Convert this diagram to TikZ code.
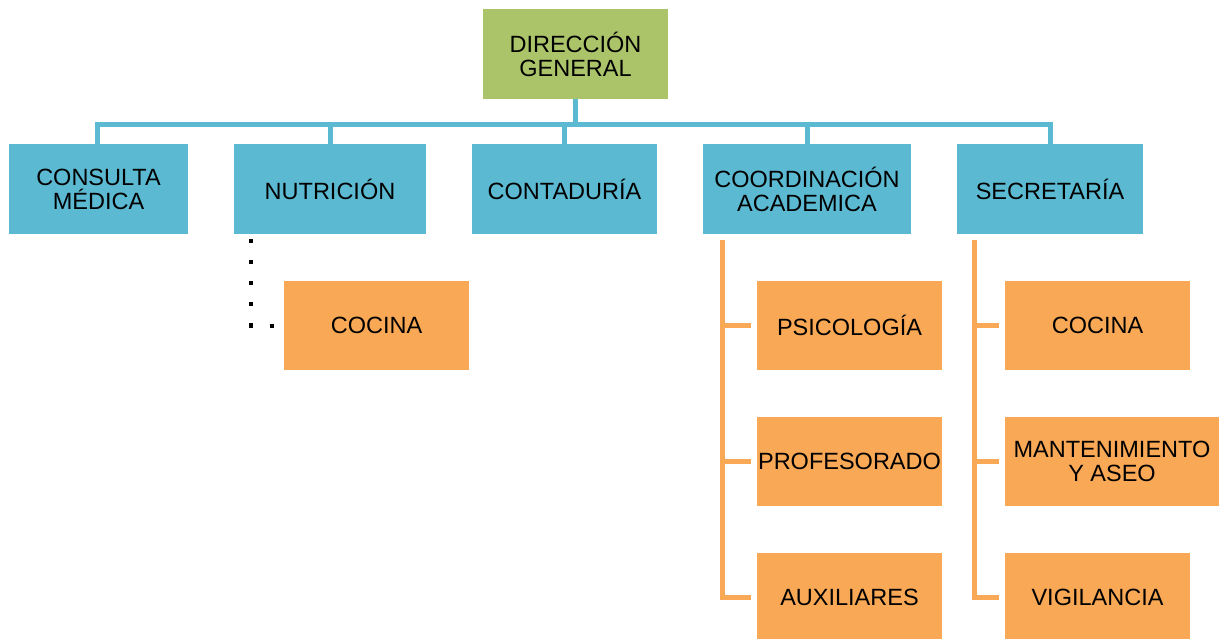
\documentclass[tikz,border=0pt]{standalone}
\usepackage{fontspec}
\setmainfont{Liberation Sans}
\definecolor{dgreen}{RGB}{171,196,106}
\definecolor{dblue}{RGB}{91,185,210}
\definecolor{dorange}{RGB}{249,168,86}
\begin{document}
\begin{tikzpicture}[x=1pt,y=-1pt,
  box/.style={rectangle,inner sep=0pt,align=center,font=\fontsize{23.5}{24}\selectfont,text=black},
  gbox/.style={box,fill=dgreen,minimum width=185pt,minimum height=90pt},
  bbox/.style={box,fill=dblue,minimum height=90pt},
  obox/.style={box,fill=dorange,minimum height=89pt},
  bline/.style={draw=dblue,line width=5pt},
  oline/.style={draw=dorange,line width=5pt},
  dline/.style={draw=black,line width=4pt,dash pattern=on 4pt off 17pt}]
\useasboundingbox (0,0) rectangle (1224,638);
% top
\node[gbox] (dg) at (575.5,54) {DIRECCIÓN\\GENERAL};
% second level
\node[bbox,minimum width=179pt] (cm) at (98.5,189) {CONSULTA\\MÉDICA};
\node[bbox,minimum width=192pt] (nu) at (330,189) {NUTRICIÓN};
\node[bbox,minimum width=185pt] (co) at (564.5,189) {CONTADURÍA};
\node[bbox,minimum width=208pt] (ca) at (807,189) {COORDINACIÓN\\ACADEMICA};
\node[bbox,minimum width=186pt] (se) at (1050,189) {SECRETARÍA};
% third level
\node[obox,minimum width=185pt] (nc) at (376.5,325.5) {COCINA};
\node[obox,minimum width=185pt] (ps) at (849.5,325.5) {PSICOLOGÍA};
\node[obox,minimum width=185pt] (pr) at (849.5,461) {PROFESORADO};
\node[obox,minimum width=185pt] (au) at (849.5,597) {AUXILIARES};
\node[obox,minimum width=185pt] (sc) at (1097.5,325.5) {COCINA};
\node[obox,minimum width=214pt] (ma) at (1112,461) {MANTENIMIENTO\\Y ASEO};
\node[obox,minimum width=185pt] (vi) at (1097.5,597) {VIGILANCIA};
% bus
\coordinate (busl) at (97,124);
\coordinate (busr) at (1050,124);
\draw[bline] ([xshift=-2.5pt]busl) -- ([xshift=2.5pt]busr);
\draw[bline] (dg.south) -- (dg.south |- busl);
\draw[bline] (cm.north -| busl) -- (busl);
\draw[bline] (nu.north) -- (nu.north |- busl);
\draw[bline] (co.north) -- (co.north |- busl);
\draw[bline] (ca.north) -- (ca.north |- busl);
\draw[bline] (se.north -| busr) -- (busr);
% coordinacion branches
\coordinate (ct) at (722,240);
\draw[oline] (ct) |- ([xshift=-6pt]au.west);
\draw[oline] (ct |- ps.west) -- ([xshift=-6pt]ps.west);
\draw[oline] (ct |- pr.west) -- ([xshift=-6pt]pr.west);
% secretaria branches
\coordinate (st) at (974,240);
\draw[oline] (st) |- ([xshift=-6pt]vi.west);
\draw[oline] (st |- sc.west) -- ([xshift=-6pt]sc.west);
\draw[oline] (st |- ma.west) -- ([xshift=-6pt]ma.west);
% nutricion dotted
\coordinate (nt) at (251,239);
\draw[dline] (nt) |- ([xshift=-8pt]nc.west);
\end{tikzpicture}
\end{document}
